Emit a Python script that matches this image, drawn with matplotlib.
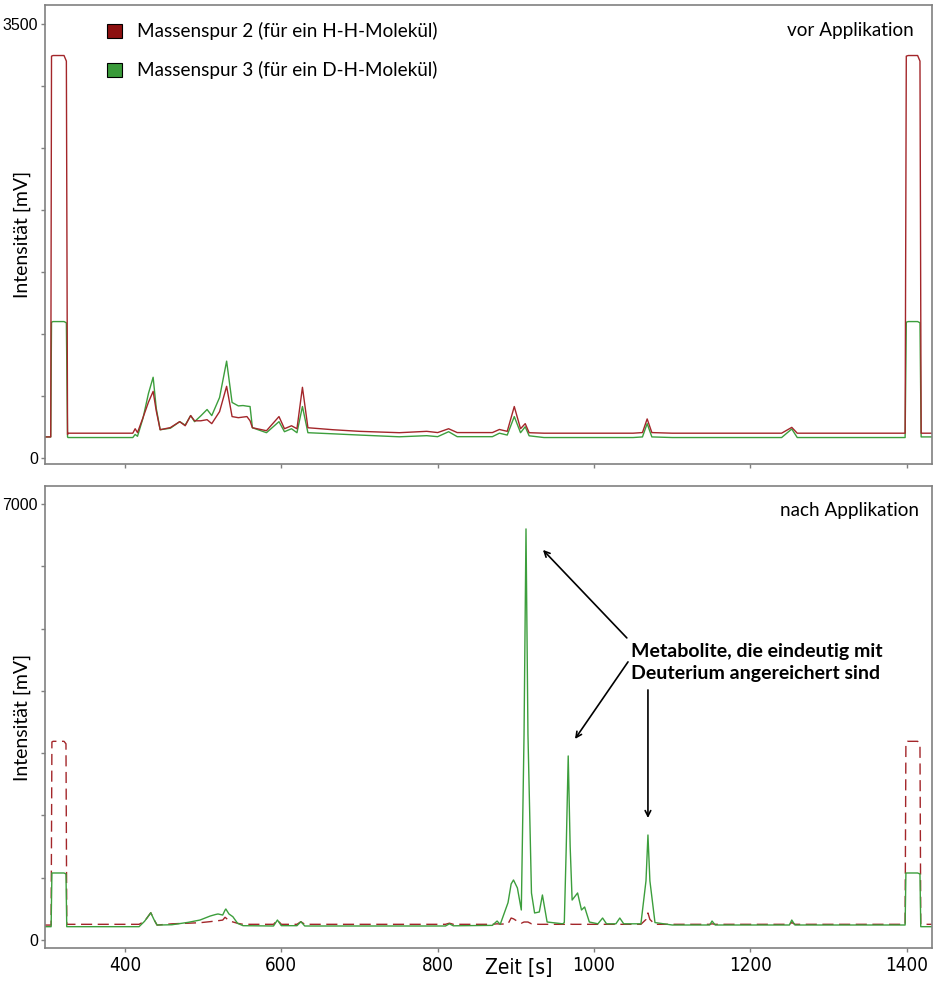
import matplotlib.pyplot as plt
from matplotlib.patches import Patch

# time grid and traces, upper panel (vor Applikation)
top_t = [297, 305, 306, 308, 322, 325, 326.5, 327, 410, 413, 416, 423, 430, 436, 440,
         445, 458, 470, 477, 484, 489, 497, 505, 511, 521, 530, 537, 545, 551, 556,
         560, 563, 581, 597, 604, 613, 620, 627, 634, 666, 700, 751, 786, 800, 814,
         825, 870, 879, 889, 898, 906, 912, 917, 936, 1050, 1062, 1068, 1074, 1100,
         1240, 1253, 1260, 1398, 1399.5, 1402, 1414, 1417, 1418.5, 1432]
top_h2 = [170, 170, 3240, 3245, 3245, 3200, 190, 200, 200, 236, 205, 325, 450, 537, 380,
          228, 245, 293, 260, 342, 300, 300, 309, 277, 374, 578, 334, 325, 330, 334,
          300, 244, 220, 334, 236, 260, 236, 570, 244, 228, 215, 204, 215, 205, 236,
          205, 205, 230, 215, 415, 236, 277, 204, 200, 200, 205, 315, 205, 200,
          200, 247, 200, 200, 3240, 3245, 3245, 3200, 200, 200]
top_hd = [170, 170, 1095, 1100, 1100, 1090, 170, 165, 165, 190, 175, 320, 520, 651, 400,
          228, 240, 293, 265, 342, 293, 340, 391, 342, 488, 781, 448, 420, 423, 418,
          415, 244, 204, 293, 212, 236, 204, 415, 204, 195, 185, 171, 180, 172, 212,
          172, 172, 200, 185, 334, 204, 252, 179, 165, 165, 170, 277, 170, 165,
          165, 234, 165, 165, 1095, 1100, 1100, 1090, 170, 170]

# lower panel (nach Applikation)
bot_t = [297, 305.5, 306.5, 308, 322, 324.5, 325.5, 418, 425, 433, 437, 441, 460, 481,
         496, 509, 516, 519, 525, 528, 529, 533, 538, 544, 551, 590, 595, 600, 620,
         625, 630, 810, 815, 820, 870, 876, 880, 890, 894, 897, 902, 907, 910.5, 913,
         915.5, 920, 924, 930, 934, 940, 960, 962, 964.5, 967, 969.5, 972, 979, 984,
         988, 994, 1005, 1011, 1016, 1028, 1033, 1038, 1060, 1066.5, 1069, 1071.5,
         1078, 1100, 1148, 1151, 1155, 1250, 1253, 1257, 1398, 1399, 1401, 1414,
         1417, 1418, 1432]
bot_h2 = [240, 240, 3180, 3190, 3190, 3150, 252, 252, 300, 438, 330, 240, 260, 270,
          278, 295, 305, 310, 320, 365, 355, 310, 290, 268, 252, 252, 321, 252, 252,
          294, 252, 252, 270, 252, 252, 260, 255, 260, 353, 340, 300, 270, 289, 289,
          289, 260, 255, 252, 252, 252, 252, 252, 252, 260, 255, 252, 252, 252,
          252, 252, 252, 252, 252, 252, 252, 252, 252, 330, 434, 330,
          252, 252, 252, 260, 252, 252, 280, 252, 252, 3180, 3190, 3190,
          3150, 252, 252]
bot_hd = [214, 214, 1076, 1076, 1076, 1060, 214, 214, 300, 438, 330, 240, 245, 284,
          321, 385, 410, 418, 401, 480, 498, 418, 374, 268, 230, 225, 321, 230, 230,
          294, 225, 225, 260, 228, 235, 305, 250, 600, 900, 964, 835, 482, 3300, 6600,
          3300, 755, 434, 450, 723, 289, 260, 280, 1500, 2955, 1500, 642, 755, 482,
          530, 289, 260, 353, 260, 260, 353, 260, 260, 950, 1686, 950,
          280, 241, 241, 305, 241, 241, 321, 241, 241, 1076, 1076, 1076,
          1060, 214, 214]

x_ticks = [400, 600, 800, 1000, 1200, 1400]
top_yticks = [0, 500, 1000, 1500, 2000, 2500, 3000, 3500]
top_ylabels = ['0', '', '', '', '', '', '', '3500']
bot_yticks = [0, 1000, 2000, 3000, 4000, 5000, 6000, 7000]
bot_ylabels = ['0', '', '', '', '', '', '', '7000']

RED = '#a3262a'
GREEN = '#3c9e3c'
GRAY = '#808080'
NARROW = dict(fontfamily='DejaVu Sans', fontstretch='condensed')

fig = plt.figure(figsize=(9.4, 9.84), dpi=100)
ax1 = fig.add_axes([0.0479, 0.5285, 0.9436, 0.4665])
ax2 = fig.add_axes([0.0479, 0.0366, 0.9436, 0.4695])

ax1.plot(top_t, top_hd, color=GREEN, lw=1.0)
ax1.plot(top_t, top_h2, color=RED, lw=1.0)
ax2.plot(bot_t, bot_h2, color=RED, lw=1.0, dashes=(8, 4))
ax2.plot(bot_t, bot_hd, color=GREEN, lw=1.0)

for ax, yt, yl, ylim in [(ax1, top_yticks, top_ylabels, (-48, 3653)),
                         (ax2, bot_yticks, bot_ylabels, (-128, 7289))]:
    ax.set_xlim(297.7, 1432.4)
    ax.set_ylim(*ylim)
    ax.set_yticks(yt)
    ax.set_yticklabels(yl, fontfamily='Liberation Sans', fontsize=11.5)
    ax.set_xticks(x_ticks)
    for s in ax.spines.values():
        s.set_color(GRAY)
        s.set_linewidth(1.2)
    ax.tick_params(colors=GRAY, labelcolor='black', length=3, width=1, pad=2)
    ax.set_ylabel('Intensität [mV]', fontfamily='Lato', fontsize=14)
    ax.yaxis.set_label_coords(-0.016, 0.5)

ax1.set_xticklabels([])
ax2.set_xticklabels([str(v) for v in x_ticks], fontsize=13.5, **NARROW)
ax2.tick_params(axis='x', pad=3)

fig.text(0.552, 0.016, 'Zeit [s]', fontsize=15, ha='center', va='center', **NARROW)

ax1.text(0.979, 0.945, 'vor Applikation', transform=ax1.transAxes, ha='right',
         va='center', fontfamily='Lato', fontsize=13.6)
ax2.text(0.985, 0.948, 'nach Applikation', transform=ax2.transAxes, ha='right',
         va='center', fontfamily='Lato', fontsize=13.6)

handles = [Patch(facecolor='#8c1010', edgecolor='black', lw=0.8),
           Patch(facecolor='#3a9a3a', edgecolor='black', lw=0.8)]
ax1.legend(handles, ['Massenspur 2 (für ein H-H-Molekül)', 'Massenspur 3 (für ein D-H-Molekül)'],
           loc='upper left', bbox_to_anchor=(0.0699, 0.962), frameon=False,
           borderpad=0, borderaxespad=0, handlelength=0.78, handleheight=0.78,
           handletextpad=0.8, labelspacing=1.1, prop={'family': 'Lato', 'size': 13.6})

ax2.text(1047, 4450, 'Metabolite, die eindeutig mit\nDeuterium angereichert sind',
         ha='left', va='center', fontfamily='Lato', fontweight='bold', fontsize=14,
         linespacing=1.38)
arrow = dict(arrowstyle='->', color='black', lw=1.2, shrinkA=0, shrinkB=0)
ax2.annotate('', xy=(934.7, 6263), xytext=(1042, 4850), arrowprops=arrow)
ax2.annotate('', xy=(975.7, 3228), xytext=(1043.5, 4465), arrowprops=arrow)
ax2.annotate('', xy=(1069, 1959), xytext=(1069, 4015), arrowprops=arrow)

fig.savefig('out.png', dpi=100)
